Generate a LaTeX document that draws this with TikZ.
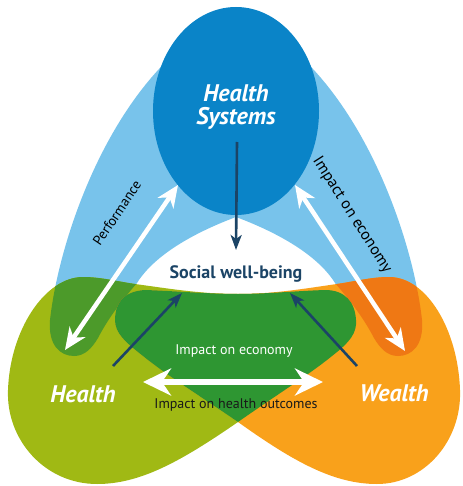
\documentclass[tikz,border=0pt]{standalone}
\usepackage{fontspec}
\setmainfont{PT Sans}
\usetikzlibrary{arrows.meta}
\definecolor{archblue}{HTML}{78C3EB}
\definecolor{hsblue}{HTML}{0A84C8}
\definecolor{hgreen}{HTML}{A0B914}
\definecolor{olivegreen}{HTML}{4C9A2A}
\definecolor{dgreen}{HTML}{2E9632}
\definecolor{worange}{HTML}{F9A11B}
\definecolor{dorange}{HTML}{EF7814}
\definecolor{navy}{HTML}{1B4466}
\def\archpath{(236,217) .. controls (180,238) and (150,262) .. (137,283)
  .. controls (125,297) and (110,315) .. (98,338)
  .. controls (92,348) and (85,356) .. (74,356)
  .. controls (60,356) and (48,345) .. (50,320)
  .. controls (60,230) and (120,60) .. (236,14)
  .. controls (352,60) and (412,230) .. (422,320)
  .. controls (424,345) and (412,356) .. (398,356)
  .. controls (387,356) and (380,348) .. (374,338)
  .. controls (362,315) and (347,297) .. (335,283)
  .. controls (322,262) and (292,238) .. (236,217) -- cycle}
\def\greenpath{(356,320) .. controls (355,302) and (345,290) .. (325,290)
  .. controls (295,291) and (265,294) .. (238,294)
  .. controls (200,294) and (165,288) .. (135,284)
  .. controls (115,281) and (100,277) .. (83,277)
  .. controls (45,277) and (10,330) .. (8,390)
  .. controls (6,440) and (45,484) .. (97,484)
  .. controls (140,484) and (180,462) .. (238,422)
  .. controls (275,396) and (310,374) .. (332,356)
  .. controls (350,342) and (357,333) .. (356,320) -- cycle}
\def\orangepath{(115,320) .. controls (115,302) and (125,291) .. (145,290)
  .. controls (175,291) and (210,294) .. (238,294)
  .. controls (275,294) and (308,288) .. (337,284)
  .. controls (357,281) and (372,277) .. (389,277)
  .. controls (427,277) and (458,330) .. (460,390)
  .. controls (462,440) and (425,484) .. (377,484)
  .. controls (334,484) and (294,462) .. (238,422)
  .. controls (200,396) and (165,374) .. (143,356)
  .. controls (125,342) and (115,333) .. (115,320) -- cycle}
\tikzset{
  wtitle/.style={text=white, font=\fontsize{24}{24}\selectfont\bfseries\itshape, align=center, inner sep=0pt},
  swlabel/.style={text=navy, font=\fontsize{18}{18}\selectfont\bfseries, inner sep=0pt},
  sidelabel/.style={text=black, inner sep=0pt},
  innerlabel/.style={font=\fontsize{14}{14}\selectfont, inner sep=0pt},
  navyarrow/.style={draw=navy, line width=2.6pt, -{Stealth[length=15pt,width=11pt,inset=4pt]}},
  whitearrow/.style={draw=white, line width=4.5pt, {Stealth[length=22pt,width=19pt,inset=7pt]}-{Stealth[length=22pt,width=19pt,inset=7pt]}},
  bigwhitearrow/.style={draw=white, line width=6.5pt, {Stealth[length=28pt,width=27pt,inset=9pt]}-{Stealth[length=28pt,width=27pt,inset=9pt]}}
}
\begin{document}
\begin{tikzpicture}[x=1pt,y=-1pt]
\useasboundingbox (0,0) rectangle (462,486);
% shapes
\fill[archblue] \archpath;
\fill[hsblue] (236,111) ellipse [x radius=83pt, y radius=104pt];
\fill[hgreen] \greenpath;
\fill[worange] \orangepath;
\begin{scope}
  \clip \greenpath;
  \fill[olivegreen] \archpath;
\end{scope}
\begin{scope}
  \clip \orangepath;
  \fill[dorange] \archpath;
\end{scope}
\begin{scope}
  \clip \greenpath;
  \fill[dgreen] \orangepath;
\end{scope}
% nodes
\node[wtitle] (hs) at (236,107) {Health\\[-1pt]Systems};
\node[swlabel] (sw) at (236,274) {Social well-being};
\node[wtitle] (health) at (83,394) {Health};
\node[wtitle] (wealth) at (394,393) {Wealth};
\node[sidelabel, font=\fontsize{14}{14}\selectfont, rotate=56] (perf) at (117,213) {Performance};
\node[sidelabel, font=\fontsize{16}{16}\selectfont, rotate=-57.5] (econ) at (352,215) {Impact on economy};
\node[innerlabel, text=white] (ie) at (234,351) {Impact on economy};
\node[innerlabel, text=black!90] (ih) at (236,405) {Impact on health outcomes};
% arrow end points
\coordinate (hsS) at (237,142);
\coordinate (swT) at (236,250);
\coordinate (hL) at (113,366);
\coordinate (swL) at (182,293);
\coordinate (wR) at (357,366);
\coordinate (swR) at (290,293);
\coordinate (pA) at (65,350);
\coordinate (pB) at (178,185);
\coordinate (eA) at (295,185);
\coordinate (eB) at (405,351);
\coordinate (hA) at (143,382);
\coordinate (hB) at (323,382);
% arrows
\draw[navyarrow] (hsS) -- (swT);
\draw[navyarrow] (hL) -- (swL);
\draw[navyarrow] (wR) -- (swR);
\draw[whitearrow] (pA) -- (pB);
\draw[whitearrow] (eA) -- (eB);
\draw[bigwhitearrow] (hA) -- (hB);
\end{tikzpicture}
\end{document}
